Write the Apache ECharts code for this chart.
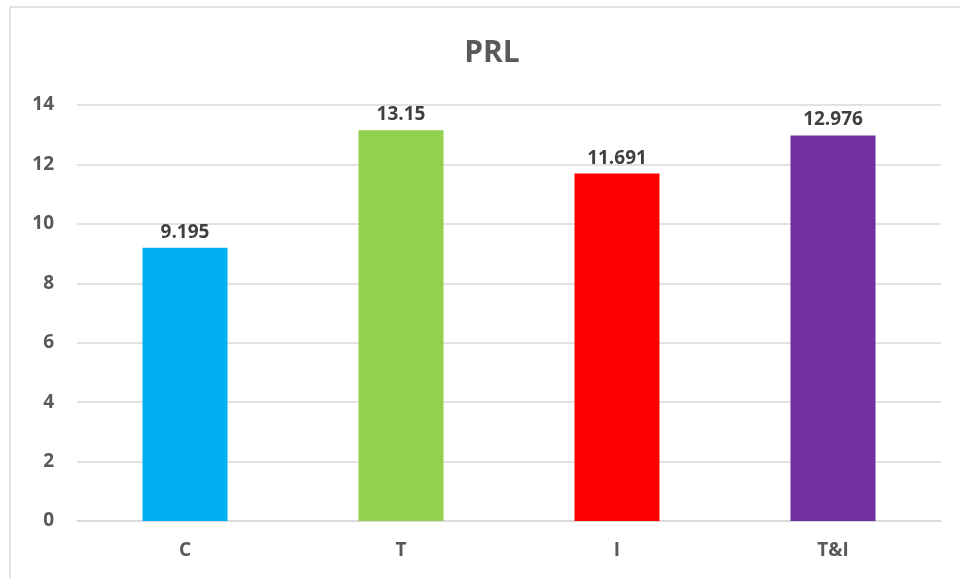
<!DOCTYPE html>
<html>
<head>
<meta charset="utf-8">
<script src="https://cdn.jsdelivr.net/npm/echarts@6/dist/echarts.min.js"></script>
<style>
html,body{margin:0;padding:0;background:#fff;}
#chart{width:960px;height:578px;}
</style>
</head>
<body>
<div id="chart"></div>
<script>
var categories = ['C', 'T', 'I', 'T&I'];
var values = [9.195, 13.15, 11.691, 12.976];
var labels = ['9.195', '13.15', '11.691', '12.976'];
var colors = ['#00B0F0', '#92D050', '#FF0000', '#7030A0'];
var yTicks = [0, 2, 4, 6, 8, 10, 12, 14];

var chart = echarts.init(document.getElementById('chart'));
var font = 'Open Sans, Calibri, sans-serif';
chart.setOption({
  animation: false,
  backgroundColor: '#ffffff',
  graphic: [{
    type: 'rect',
    shape: { x: 10, y: 7, width: 1000, height: 700 },
    style: { fill: 'none', stroke: '#D9D9D9', lineWidth: 1.5 },
    silent: true
  }],
  title: {
    text: 'PRL',
    left: 487,
    top: 33,
    textAlign: 'center',
    textStyle: { fontFamily: font, fontSize: 30, fontWeight: 'bold', color: '#595959' }
  },
  grid: { left: 77, right: 19, top: 105, bottom: 57 },
  xAxis: {
    type: 'category',
    data: categories,
    axisLine: { show: true, lineStyle: { color: '#D9D9D9', width: 1.5 } },
    axisTick: { show: false },
    axisLabel: { margin: 20, fontFamily: font, fontSize: 19, fontWeight: 'bold', color: '#595959' }
  },
  yAxis: {
    type: 'value',
    min: yTicks[0],
    max: yTicks[yTicks.length - 1],
    interval: 2,
    axisLine: { show: false },
    axisTick: { show: false },
    splitLine: { lineStyle: { color: '#D9D9D9', width: 1.5 } },
    axisLabel: { margin: 23, fontFamily: font, fontSize: 19, fontWeight: 'bold', color: '#595959' }
  },
  series: [{
    type: 'bar',
    barWidth: 85,
    data: values.map(function (v, i) {
      return { value: v, itemStyle: { color: colors[i] } };
    }),
    label: {
      show: true,
      position: 'top',
      distance: 6,
      fontFamily: font,
      fontSize: 19,
      fontWeight: 'bold',
      color: '#404040',
      formatter: function (p) { return labels[p.dataIndex]; }
    }
  }]
});
</script>
</body>
</html>
